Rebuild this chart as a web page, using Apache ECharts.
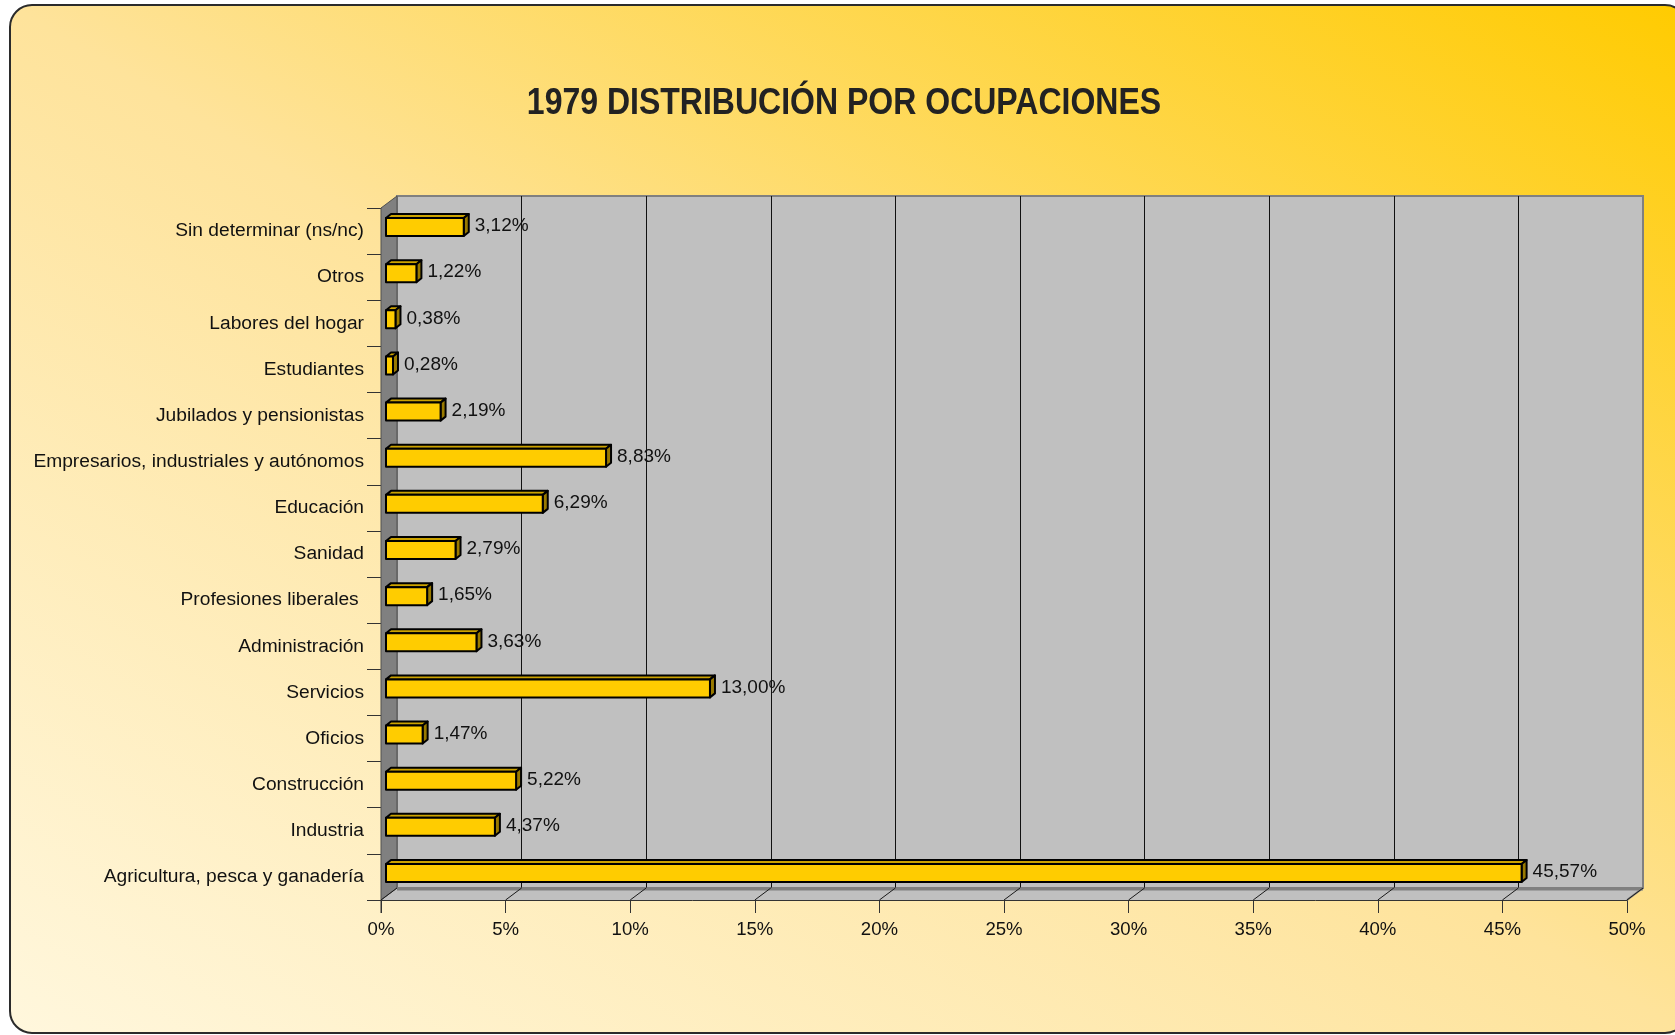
<!DOCTYPE html>
<html>
<head>
<meta charset="utf-8">
<script src="https://cdn.jsdelivr.net/npm/echarts@6/dist/echarts.min.js"></script>
<style>
html,body{margin:0;padding:0;background:#fff;}
#chart{width:1675px;height:1035px;}
</style>
</head>
<body>
<div id="chart"></div>
<script>
// ---- data (bottom to top, as drawn) ----
const categories = [
  'Agricultura, pesca y ganadería',
  'Industria',
  'Construcción',
  'Oficios',
  'Servicios',
  'Administración',
  'Profesiones liberales ',
  'Sanidad',
  'Educación',
  'Empresarios, industriales y autónomos',
  'Jubilados y pensionistas',
  'Estudiantes',
  'Labores del hogar',
  'Otros',
  'Sin determinar (ns/nc)'
];
const values = [45.57, 4.37, 5.22, 1.47, 13.00, 3.63, 1.65, 2.79, 6.29, 8.83, 2.19, 0.28, 0.38, 1.22, 3.12];
const axisMin = 0;
const axisMax = 50;
const axisStep = 5;
const titleText = '1979 DISTRIBUCIÓN POR OCUPACIONES';

// ---- style constants ----
const FONT = '"Liberation Sans", Arial, sans-serif';
const DEPTH = [16, -12];   // wall depth offset
const BAR_OFF = [5, -4];   // bar front-face offset
const BAR_D = [5, -4];     // bar depth

const tickValues = [];
for (let v = axisMin; v <= axisMax + 1e-9; v += axisStep) tickValues.push(v);

const fmt = v => v.toFixed(2).replace('.', ',') + '%';

function renderWalls(params, api) {
  const cs = params.coordSys;
  const x0 = cs.x, y0 = cs.y, w = cs.width, h = cs.height;
  const dx = DEPTH[0], dy = DEPTH[1];
  const yb = y0 + h;
  const children = [];
  children.push({
    type: 'polygon',
    shape: { points: [[x0, yb], [x0 + w, yb], [x0 + w + dx, yb + dy], [x0 + dx, yb + dy]] },
    style: { fill: '#C0C0C0', stroke: null }
  });
  children.push({
    type: 'polygon',
    shape: { points: [[x0, y0], [x0 + dx, y0 + dy], [x0 + dx, yb + dy], [x0, yb]] },
    style: { fill: '#808080', stroke: '#505050', lineWidth: 1 }
  });
  children.push({
    type: 'line',
    shape: { x1: x0 + dx, y1: yb + dy + 1, x2: x0 + w + dx, y2: yb + dy + 1 },
    style: { stroke: '#808080', lineWidth: 3 }
  });
  children.push({
    type: 'line',
    shape: { x1: x0 + w, y1: yb, x2: x0 + w + dx, y2: yb + dy },
    style: { stroke: '#808080', lineWidth: 2 }
  });
  tickValues.forEach(v => {
    const p = api.coord([v, 0]);
    children.push({
      type: 'line',
      shape: { x1: p[0], y1: yb, x2: p[0] + dx, y2: yb + dy },
      style: { stroke: '#1a1a1a', lineWidth: 1 }
    });
  });
  children.push({
    type: 'line',
    shape: { x1: x0, y1: yb, x2: x0, y2: yb + 13 },
    style: { stroke: '#333', lineWidth: 1 }
  });
  return { type: 'group', children: children };
}

function renderBar(params, api) {
  const v = api.value(0);
  const ci = api.value(1);
  const p0 = api.coord([axisMin, ci]);
  const p1 = api.coord([v, ci]);
  const band = api.size([0, 1])[1];
  const h = band * 0.39;
  const xl = p0[0] + BAR_OFF[0];
  const xr = p1[0] + BAR_OFF[0];
  const yc = p0[1] + BAR_OFF[1];
  const yt = yc - h / 2, yb = yc + h / 2;
  const dx = BAR_D[0], dy = BAR_D[1];
  const stroke = { stroke: '#000', lineWidth: 2, lineJoin: 'round' };
  return {
    type: 'group',
    children: [
      { type: 'polygon', shape: { points: [[xl, yt], [xl + dx, yt + dy], [xr + dx, yt + dy], [xr, yt]] },
        style: Object.assign({ fill: '#CCA300' }, stroke) },
      { type: 'polygon', shape: { points: [[xr, yt], [xr + dx, yt + dy], [xr + dx, yb + dy], [xr, yb]] },
        style: Object.assign({ fill: '#997A00' }, stroke) },
      { type: 'rect', shape: { x: xl, y: yt, width: Math.max(xr - xl, 1), height: h },
        style: Object.assign({ fill: '#FFCC00' }, stroke) },
      { type: 'text', x: xr + dx + 6, y: yc - 1,
        style: { text: fmt(v), fill: '#111', font: '19px ' + FONT, align: 'left', verticalAlign: 'middle' } }
    ]
  };
}

const chart = echarts.init(document.getElementById('chart'), null, { renderer: 'canvas' });

const option = {
  backgroundColor: '#ffffff',
  animation: false,
  graphic: [
    {
      type: 'rect', z: -100, silent: true,
      shape: { x: 10, y: 5, width: 1677, height: 1028, r: 22 },
      style: {
        fill: new echarts.graphic.LinearGradient(10, 1033, 926, -461, [
          { offset: 0, color: '#FFF7DD' },
          { offset: 0.5, color: '#FEE39B' },
          { offset: 1, color: '#FFCB00' }
        ], true),
        stroke: '#2b2b2b', lineWidth: 2
      }
    },
    {
      type: 'text', z: 10, x: 844, y: 104, scaleX: 0.865, scaleY: 1.02,
      style: {
        text: titleText, fill: '#222',
        font: 'bold 37px "Liberation Sans", Arial, sans-serif',
        align: 'center', verticalAlign: 'middle'
      }
    }
  ],
  grid: [
    { left: 381, top: 208, width: 1246, height: 692, containLabel: false, outerBoundsMode: 'none', show: false },
    { left: 397, top: 196, width: 1246, height: 692, containLabel: false, outerBoundsMode: 'none',
      show: true, backgroundColor: '#C0C0C0', borderColor: '#808080', borderWidth: 2 }
  ],
  xAxis: [
    {
      gridIndex: 0, type: 'value', min: axisMin, max: axisMax, interval: axisStep,
      axisLine: { show: true, lineStyle: { color: '#333', width: 1 } },
      axisTick: { show: true, length: 13, lineStyle: { color: '#333' } },
      axisLabel: { show: true, formatter: '{value}%', color: '#111', fontSize: 18.6, fontFamily: FONT, margin: 20 },
      splitLine: { show: false }
    },
    {
      gridIndex: 1, type: 'value', min: axisMin, max: axisMax, interval: axisStep,
      axisLine: { show: false }, axisTick: { show: false }, axisLabel: { show: false },
      splitLine: { show: true, showMinLine: false, showMaxLine: false, lineStyle: { color: '#111', width: 1 } }
    }
  ],
  yAxis: [
    {
      gridIndex: 0, type: 'category', data: categories,
      axisLine: { show: true, lineStyle: { color: '#333', width: 1 } },
      axisTick: { show: true, length: 14, lineStyle: { color: '#333' } },
      axisLabel: { show: true, color: '#111', fontSize: 19.2, fontFamily: FONT, margin: 17 },
      splitLine: { show: false }
    },
    {
      gridIndex: 1, type: 'category', data: categories,
      axisLine: { show: false }, axisTick: { show: false }, axisLabel: { show: false }, splitLine: { show: false }
    }
  ],
  series: [
    {
      type: 'custom', name: 'walls', xAxisIndex: 0, yAxisIndex: 0, clip: false, silent: true, z: 1,
      renderItem: renderWalls,
      data: [[axisMin, 0]],
      encode: { x: 0, y: 1 }
    },
    {
      type: 'custom', name: '1979', xAxisIndex: 0, yAxisIndex: 0, clip: false, z: 5,
      renderItem: renderBar,
      data: values.map((v, i) => [v, i]),
      encode: { x: 0, y: 1 }
    }
  ]
};

chart.setOption(option);
</script>
</body>
</html>
